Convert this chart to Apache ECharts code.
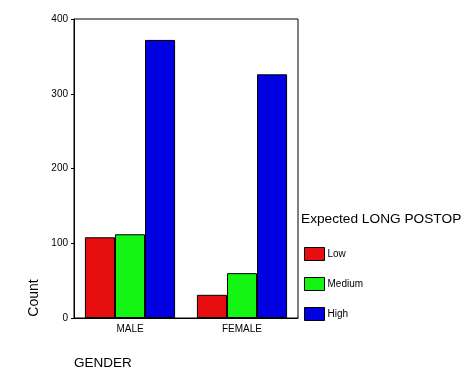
<!DOCTYPE html>
<html>
<head>
<meta charset="utf-8">
<script src="https://cdn.jsdelivr.net/npm/echarts@6/dist/echarts.min.js"></script>
<style>
html,body{margin:0;padding:0;background:#fff;}
#chart{width:476px;height:381px;}
</style>
</head>
<body>
<div id="chart"></div>
<script>
var categories = ['MALE', 'FEMALE'];
var seriesNames = ['Low', 'Medium', 'High'];
var lowValues = [108, 31];
var mediumValues = [112, 60];
var highValues = [372, 326];
var yTicks = [0, 100, 200, 300, 400];

var colors = ['#E60E0E', '#14F514', '#0000E0'];
var font = 'Liberation Sans, Arial, sans-serif';

var chart = echarts.init(document.getElementById('chart'), null, {renderer: 'canvas'});
var dataSets = [lowValues, mediumValues, highValues];
var series = seriesNames.map(function (n, i) {
  return {
    name: n,
    type: 'bar',
    data: dataSets[i],
    barGap: '0%',
    barCategoryGap: '19.5%',
    itemStyle: {color: colors[i], borderColor: '#000', borderWidth: 1},
    emphasis: {disabled: true},
    animation: false
  };
});

chart.setOption({
  animation: false,
  backgroundColor: '#fff',
  grid: {left: 74, right: 178, top: 19, bottom: 63, show: true, borderColor: '#000', borderWidth: 1, containLabel: false},
  xAxis: {
    type: 'category',
    data: categories,
    axisLine: {lineStyle: {color: '#000', width: 1}},
    axisTick: {alignWithLabel: true, length: 3, lineStyle: {color: '#000'}},
    axisLabel: {color: '#000', fontSize: 10, fontFamily: font, margin: 6}
  },
  yAxis: {
    type: 'value',
    min: yTicks[0],
    max: yTicks[yTicks.length - 1],
    interval: 100,
    splitLine: {show: false},
    axisLine: {show: true, lineStyle: {color: '#000', width: 1}},
    axisTick: {show: true, length: 3, lineStyle: {color: '#000'}},
    axisLabel: {color: '#000', fontSize: 10, fontFamily: font, margin: 6}
  },
  legend: {
    orient: 'vertical',
    left: 304,
    top: 247,
    padding: 0,
    itemWidth: 20,
    itemHeight: 13,
    itemGap: 16,
    icon: 'rect',
    selectedMode: false,
    itemStyle: {borderColor: '#000', borderWidth: 1},
    textStyle: {color: '#000', fontSize: 10, fontFamily: font, padding: [0, 0, 0, -2]},
    data: seriesNames
  },
  graphic: [
    {type: 'text', left: 301, top: 212, style: {text: 'Expected LONG POSTOP', fill: '#000', font: '13.7px ' + font}},
    {type: 'text', left: 74, top: 356, style: {text: 'GENDER', fill: '#000', font: '13.5px ' + font}},
    {type: 'text', x: 34, y: 298, rotation: Math.PI / 2, style: {text: 'Count', fill: '#000', font: '14px ' + font, align: 'center', verticalAlign: 'middle'}}
  ],
  series: series
});
</script>
</body>
</html>
